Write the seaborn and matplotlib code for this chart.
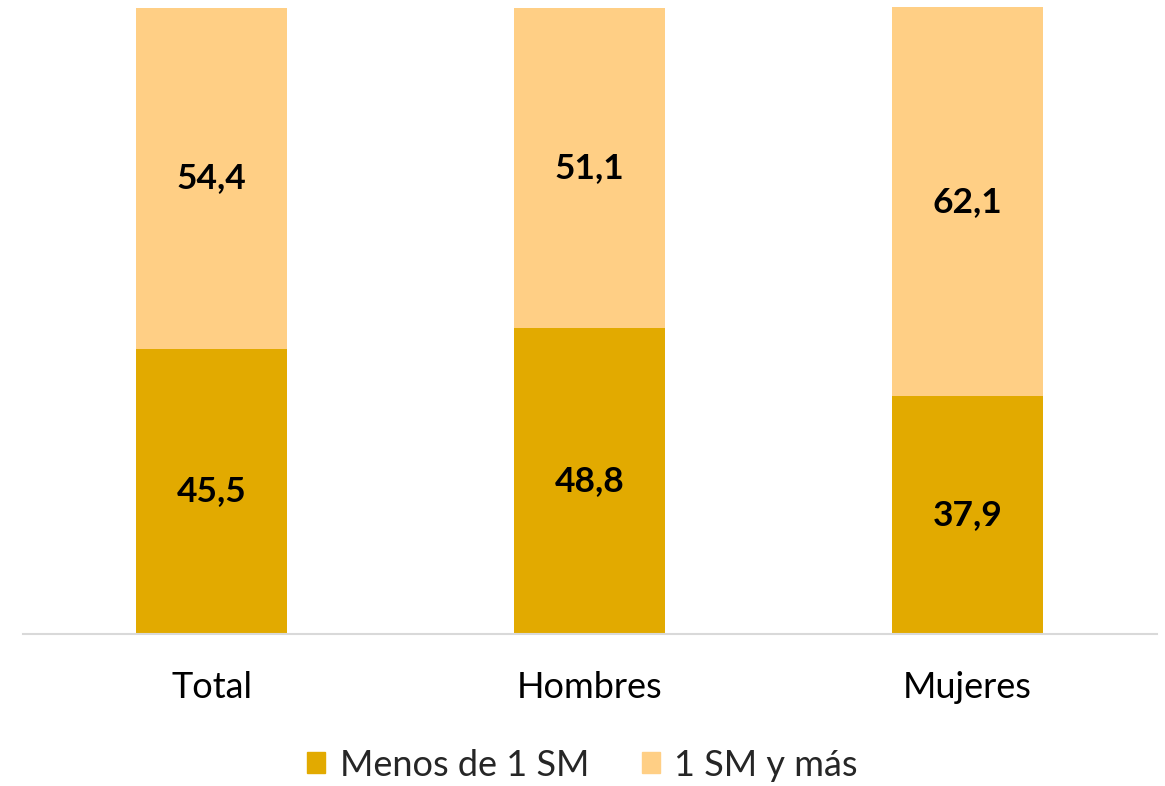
import numpy as np
import pandas as pd
import matplotlib
matplotlib.use('Agg')
import matplotlib.pyplot as plt
import seaborn as sns
from matplotlib.patches import Patch

# data
categorias = ['Total', 'Hombres', 'Mujeres']
menos_1sm = [45.5, 48.8, 37.9]
sm_y_mas = [54.4, 51.1, 62.1]

color_menos = '#E2AA00'
color_mas = '#FFCF85'

sns.set_theme(style='white')
plt.rcParams['font.family'] = ['Lato', 'DejaVu Sans']

df = pd.DataFrame({'cat': categorias, 'menos': menos_1sm, 'mas': sm_y_mas})
df['total'] = df['menos'] + df['mas']

fig = plt.figure(figsize=(11.65, 7.86), dpi=100)
ax = fig.add_axes([22.5 / 1165, 152 / 786, 1134 / 1165, 627 / 786])

# stacked bars: full height in light colour, bottom part in dark colour
sns.barplot(data=df, x='cat', y='total', color=color_mas, width=0.4, saturation=1,
            linewidth=0, ax=ax)
sns.barplot(data=df, x='cat', y='menos', color=color_menos, width=0.4, saturation=1,
            linewidth=0, ax=ax)

ax.set_ylim(0, 100)
ax.set_xlim(-0.5, 2.5)
ax.set_xlabel('')
ax.set_ylabel('')
ax.set_yticks([])
for s in ['top', 'left', 'right']:
    ax.spines[s].set_visible(False)
ax.spines['bottom'].set_color('#D9D9D9')
ax.spines['bottom'].set_linewidth(1.5)
ax.tick_params(axis='x', length=0, pad=27, labelsize=26, colors='black')

# value labels
for i in range(len(categorias)):
    m = menos_1sm[i]
    s = sm_y_mas[i]
    ax.text(i, m / 2, f'{m:.1f}'.replace('.', ','), ha='center', va='center',
            fontsize=25.5, fontweight='bold', color='black')
    ax.text(i, m + s / 2, f'{s:.1f}'.replace('.', ','), ha='center', va='center',
            fontsize=25.5, fontweight='bold', color='black')

handles = [Patch(color=color_menos, label='Menos de 1 SM'),
           Patch(color=color_mas, label='1 SM y más')]
fig.legend(handles=handles, loc='center', bbox_to_anchor=(0.5, 21 / 786), ncol=2,
           frameon=False, fontsize=26, handlelength=0.5, handleheight=0.5,
           handletextpad=0.4, columnspacing=1.45)

fig.savefig('out.png', dpi=100)
